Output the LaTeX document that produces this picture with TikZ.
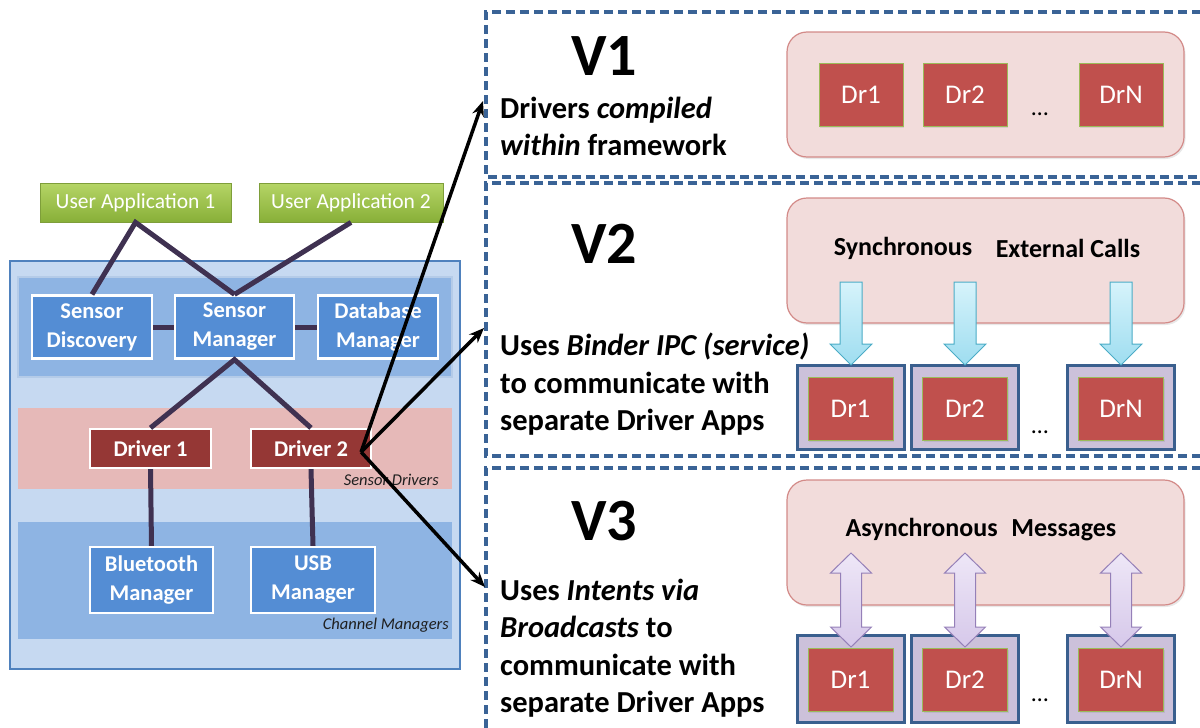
\documentclass[tikz,border=0pt]{standalone}
\usepackage{fontspec}
\setmainfont{Carlito}
\usetikzlibrary{arrows.meta,shadows}

\definecolor{outerfill}{HTML}{C6D9F1}
\definecolor{outeredge}{HTML}{4F81BD}
\definecolor{bandblue}{HTML}{8EB4E3}
\definecolor{bandedge}{HTML}{B4CBE8}
\definecolor{bandpink}{HTML}{E6B9B8}
\definecolor{compblue}{HTML}{548DD4}
\definecolor{drvdark}{HTML}{953735}
\definecolor{linkc}{HTML}{3F3151}
\definecolor{uatop}{HTML}{B5D566}
\definecolor{uabot}{HTML}{88AF38}
\definecolor{uaedge}{HTML}{7E9E3A}
\definecolor{dashc}{HTML}{3A6396}
\definecolor{pinkfill}{HTML}{F2DCDB}
\definecolor{pinkedge}{HTML}{D38A88}
\definecolor{drred}{HTML}{C0504D}
\definecolor{drgreen}{HTML}{9BBB59}
\definecolor{lavfill}{HTML}{CCC1DA}
\definecolor{lavedge}{HTML}{3A5F8E}
\definecolor{cyanfill}{HTML}{9EDDF0}
\definecolor{cyantop}{HTML}{D6F3FB}
\definecolor{cyanedge}{HTML}{4BACC6}
\definecolor{purpfill}{HTML}{D6C8EA}
\definecolor{purptop}{HTML}{EEE7F7}
\definecolor{purpedge}{HTML}{9580B8}
\definecolor{italc}{HTML}{1F1F1F}

\begin{document}
\begin{tikzpicture}[x=1pt,y=-1pt,
  appbox/.style={draw=uaedge, line width=0.8, top color=uatop, bottom color=uabot,
    text=white, font=\fontsize{21.5}{26}\selectfont, minimum height=39, inner sep=0},
  compbox/.style={draw=white, line width=2.2, fill=compblue, text=white,
    font=\fontsize{22.5}{29}\selectfont\bfseries, align=center, inner sep=0, minimum height=63},
  drvbox/.style={draw=white, line width=2.2, fill=drvdark, text=white,
    font=\fontsize{22.5}{29}\selectfont\bfseries, inner sep=0, minimum height=39},
  link/.style={draw=linkc, line width=5},
  bandlabel/.style={anchor=base east, inner sep=0, text=italc,
    font=\fontsize{16.5}{20}\selectfont\itshape},
  panel/.style={draw=dashc, line width=3.2, dash pattern=on 9pt off 5pt},
  vlabel/.style={inner sep=0, font=\fontsize{60}{70}\selectfont\bfseries},
  ptext/.style={anchor=base west, inner sep=0, font=\fontsize{30.5}{36}\selectfont\bfseries},
  pinkbox/.style={draw=pinkedge, line width=1.2, fill=pinkfill, rounded corners=20pt,
    drop shadow={opacity=0.18, shadow xshift=1.5pt, shadow yshift=-2pt}},
  drbox/.style={draw=drgreen, line width=1, fill=drred, text=white,
    minimum width=84, minimum height=63, inner sep=0, font=\fontsize{27}{32}\selectfont,
    drop shadow={opacity=0.2, shadow xshift=1.2pt, shadow yshift=-1.5pt}},
  appframe/.style={draw=lavedge, line width=3, fill=lavfill, minimum width=107,
    minimum height=84, inner sep=0},
  calllabel/.style={inner sep=0, font=\fontsize{26}{30}\selectfont\bfseries},
  dots/.style={inner sep=0, font=\fontsize{24}{28}\selectfont},
  syncarrow/.style={draw=cyanedge, line width=1, top color=cyantop, bottom color=cyanfill},
  asyncarrow/.style={draw=purpedge, line width=1, top color=purptop, bottom color=purpfill},
  pointer/.style={draw=black, line width=3.5, -{Stealth[length=15pt, width=12pt]}}
]
\useasboundingbox (0,0) rectangle (1200,728);
\clip (0,0) rectangle (1200,728);

% ---------- framework stack ----------
\draw[fill=outerfill, draw=outeredge, line width=2.5] (10,261) rectangle (460,669);
\draw[fill=bandblue, draw=bandedge, line width=1.5] (18,277) rectangle (452,377);
\draw[fill=bandpink, draw=none] (18,408) rectangle (452,489);
\draw[fill=bandblue, draw=none] (18,522) rectangle (452,639);

\node[appbox, minimum width=191] (ua1) at (135.5,202.5) {User Application 1};
\node[appbox, minimum width=184] (ua2) at (351,202.5) {User Application 2};

\node[compbox, minimum width=120] (sd) at (92,327) {Sensor\\Discovery};
\node[compbox, minimum width=119] (sm) at (234.5,327) {Sensor\\Manager};
\node[compbox, minimum width=120] (dm) at (378,327) {Database\\Manager};

\node[drvbox, minimum width=121] (d1) at (150.5,448.5) {Driver 1};
\node[drvbox, minimum width=120] (d2) at (311,448.5) {Driver 2};
\node[bandlabel] (sdlab) at (439,485) {Sensor Drivers};

\node[compbox, minimum width=123, minimum height=66] (bt) at (151.5,580) {Bluetooth\\Manager};
\node[compbox, minimum width=124, minimum height=66] (usb) at (313,580) {USB\\Manager};
\node[bandlabel] (cmlab) at (449,629) {Channel Managers};

\draw[link] (sd.north) -- (ua1.south) -- (sm.north);
\draw[link] (ua2.south) -- (sm.north);
\draw[link] (sd.east) -- (sm.west);
\draw[link] (sm.east) -- (dm.west);
\draw[link] (d1.north) -- (sm.south) -- (d2.north);
\draw[link] (d1.south) -- (bt.north);
\draw[link] (d2.south) -- (usb.north);

% ---------- variant panels ----------
\draw[panel] (1215,12) -- (486,12) -- (486,177) -- (1215,177);
\draw[panel] (1215,183) -- (486,183) -- (486,456) -- (1215,456);
\draw[panel] (1215,468) -- (486,468) -- (486,740);

% V1
\node[vlabel] (v1) at (604,56) {V1};
\node[ptext] (v1a) at (500,118) {Drivers \textit{compiled}};
\node[ptext] (v1b) at (500,155) {\textit{within} framework};
\draw[pinkbox] (787,32) rectangle (1184,157);
\node[drbox] (v1d1) at (861,94.5) {Dr1};
\node[drbox] (v1d2) at (965,94.5) {Dr2};
\node[drbox] (v1dn) at (1121,94.5) {DrN};
\node[dots] (v1dots) at (1040,114) {…};

% V2
\node[vlabel] (v2) at (604,244) {V2};
\node[ptext] (v2a) at (500,355) {Uses \textit{Binder IPC (service)}};
\node[ptext] (v2b) at (500,393) {to communicate with};
\node[ptext] (v2c) at (500,430) {separate Driver Apps};
\draw[pinkbox] (787,198) rectangle (1184,323);
\node[calllabel] (v2sync) at (903,248) {Synchronous};
\node[calllabel] (v2ext) at (1068,248) {External Calls};
\node[appframe] (v2f1) at (850.5,407) {};
\node[appframe] (v2f2) at (965,407) {};
\node[appframe] (v2fn) at (1121,407) {};
\node[drbox, minimum width=85] (v2d1) at (850.5,408.5) {Dr1};
\node[drbox, minimum width=85] (v2d2) at (965,408.5) {Dr2};
\node[drbox, minimum width=85] (v2dn) at (1121,408.5) {DrN};
\node[dots] (v2dots) at (1040,432) {…};
% synchronous calls: block arrows pointing down into each driver app
\foreach \c in {851,965,1121}
  \draw[syncarrow] ({\c-11},282) -- ({\c+11},282) -- ({\c+11},344) -- ({\c+21},344)
    -- (\c,365) -- ({\c-21},344) -- ({\c-11},344) -- cycle;

% V3
\node[vlabel] (v3) at (604,521) {V3};
\node[ptext] (v3a) at (500,600) {Uses \textit{Intents via}};
\node[ptext] (v3b) at (500,637) {\textit{Broadcasts} to};
\node[ptext] (v3c) at (500,675) {communicate with};
\node[ptext] (v3d) at (500,712) {separate Driver Apps};
\draw[pinkbox] (787,480) rectangle (1184,605);
\node[calllabel] (v3msg) at (981,530) {Asynchronous\hspace{0.3em} Messages};
\node[appframe, minimum height=87] (v3f1) at (850.5,678.5) {};
\node[appframe, minimum height=87] (v3f2) at (965,678.5) {};
\node[appframe, minimum height=87] (v3fn) at (1121,678.5) {};
\node[drbox, minimum width=85] (v3d1) at (850.5,679.5) {Dr1};
\node[drbox, minimum width=85] (v3d2) at (965,679.5) {Dr2};
\node[drbox, minimum width=85] (v3dn) at (1121,679.5) {DrN};
\node[dots] (v3dots) at (1040,700) {…};
% asynchronous messages: two-headed block arrows
\foreach \c in {851,965,1121}
  \draw[asyncarrow] (\c,553) -- ({\c+20.5},573) -- ({\c+10.5},573) -- ({\c+10.5},627)
    -- ({\c+20.5},627) -- (\c,647) -- ({\c-20.5},627) -- ({\c-10.5},627)
    -- ({\c-10.5},573) -- ({\c-20.5},573) -- cycle;

% ---------- pointers from Driver 2 to the variants ----------
\coordinate (tap) at ([xshift=-11pt,yshift=-3.5pt]d2.east);
\coordinate (t1) at (483,101);
\coordinate (t2) at (484,328);
\coordinate (t3) at (485,587);
\draw[pointer] (tap) -- (t1);
\draw[pointer] (tap) -- (t2);
\draw[pointer] (tap) -- (t3);
\end{tikzpicture}
\end{document}
